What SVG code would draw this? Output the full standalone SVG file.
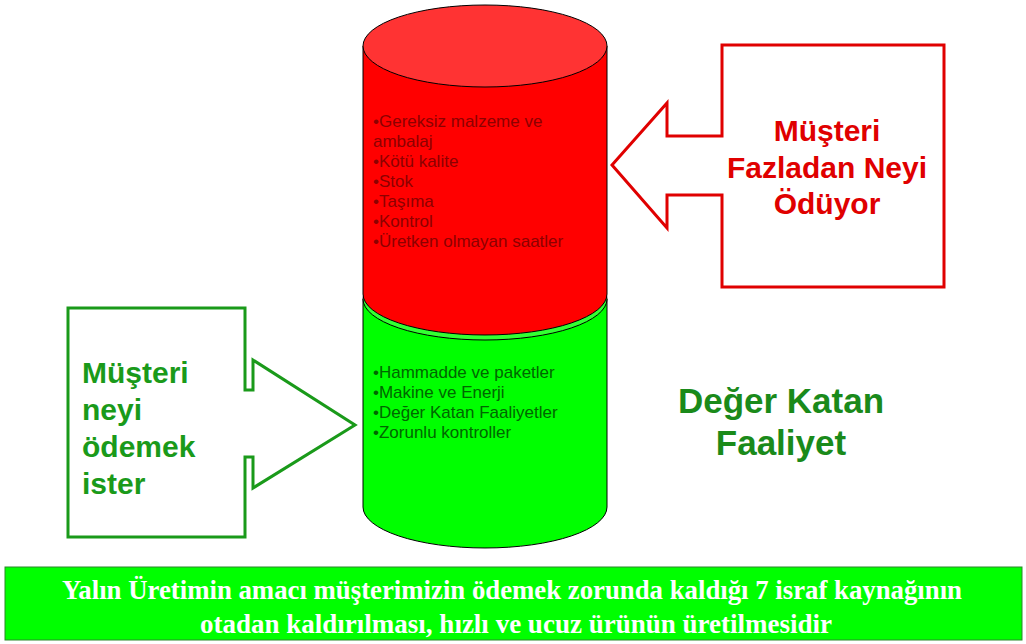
<svg xmlns="http://www.w3.org/2000/svg" width="1026" height="644" viewBox="0 0 1026 644">
<style>
.cyl{stroke:#000;stroke-width:1}
.item{font-family:"Liberation Sans",Arial,sans-serif;font-size:17px}
.big{font-family:"Liberation Sans",Arial,sans-serif;font-weight:bold;font-size:30px}
.foot{font-family:"Liberation Serif","Times New Roman",serif;font-weight:bold;font-size:27px;fill:#fff}
</style>
<rect width="1026" height="644" fill="#fff"/>
<g id="green-cylinder">
<path class="cyl" d="M363,299 L363,507 A122,41 0 0 0 607,507 L607,299 Z" fill="#00ff00"/>
<ellipse class="cyl" cx="485" cy="299" rx="122" ry="41" fill="#33ff33"/>
</g>
<g id="red-cylinder">
<path class="cyl" d="M363,46 L363,294 A122,41 0 0 0 607,294 L607,46 Z" fill="#ff0000"/>
<ellipse class="cyl" cx="485" cy="46" rx="122" ry="41" fill="#ff3333"/>
<g class="item" fill="#8c0000">
<text x="373" y="127">•Gereksiz malzeme ve</text>
<text x="373" y="147">ambalaj</text>
<text x="373" y="167">•Kötü kalite</text>
<text x="373" y="187">•Stok</text>
<text x="373" y="207">•Taşıma</text>
<text x="373" y="227">•Kontrol</text>
<text x="373" y="247">•Üretken olmayan saatler</text>
</g>
</g>
<g id="green-items" class="item" fill="#006600">
<text x="373" y="378">•Hammadde ve paketler</text>
<text x="373" y="398">•Makine ve Enerji</text>
<text x="373" y="418">•Değer Katan Faaliyetler</text>
<text x="373" y="438">•Zorunlu kontroller</text>
</g>
<g id="red-callout">
<path d="M722,45 L944,45 L944,287 L722,287 L722,195 L667,195 L667,228 L612,165 L667,103 L667,136 L722,136 Z" fill="#fff" stroke="#e00000" stroke-width="3"/>
<g class="big" fill="#e00000" text-anchor="middle">
<text x="827" y="141">Müşteri</text>
<text x="827" y="178">Fazladan Neyi</text>
<text x="827" y="214">Ödüyor</text>
</g>
</g>
<g id="green-callout">
<path d="M68,308 L245,308 L245,390 L253,390 L253,360 L355,425 L253,488 L253,457 L245,457 L245,537 L68,537 Z" fill="#fff" stroke="#1a9a1a" stroke-width="3"/>
<g class="big" fill="#1a9a1a">
<text x="82" y="383">Müşteri</text>
<text x="82" y="420">neyi</text>
<text x="82" y="457">ödemek</text>
<text x="82" y="494">ister</text>
</g>
</g>
<g id="value-label" class="big" fill="#1a8a1a" text-anchor="middle" style="font-size:35px">
<text x="781" y="413">Değer Katan</text>
<text x="781" y="455">Faaliyet</text>
</g>
<g id="footer">
<rect x="5" y="567" width="1017" height="73" fill="#00ff00" stroke="#2a8a2a" stroke-width="1"/>
<text class="foot" x="512" y="599" text-anchor="middle" textLength="900" lengthAdjust="spacingAndGlyphs">Yalın Üretimin amacı müşterimizin ödemek zorunda kaldığı 7 israf kaynağının</text>
<text class="foot" x="516" y="633" text-anchor="middle" textLength="632" lengthAdjust="spacingAndGlyphs">otadan kaldırılması, hızlı ve ucuz ürünün üretilmesidir</text>
</g>
<g id="connectors"></g>
</svg>
